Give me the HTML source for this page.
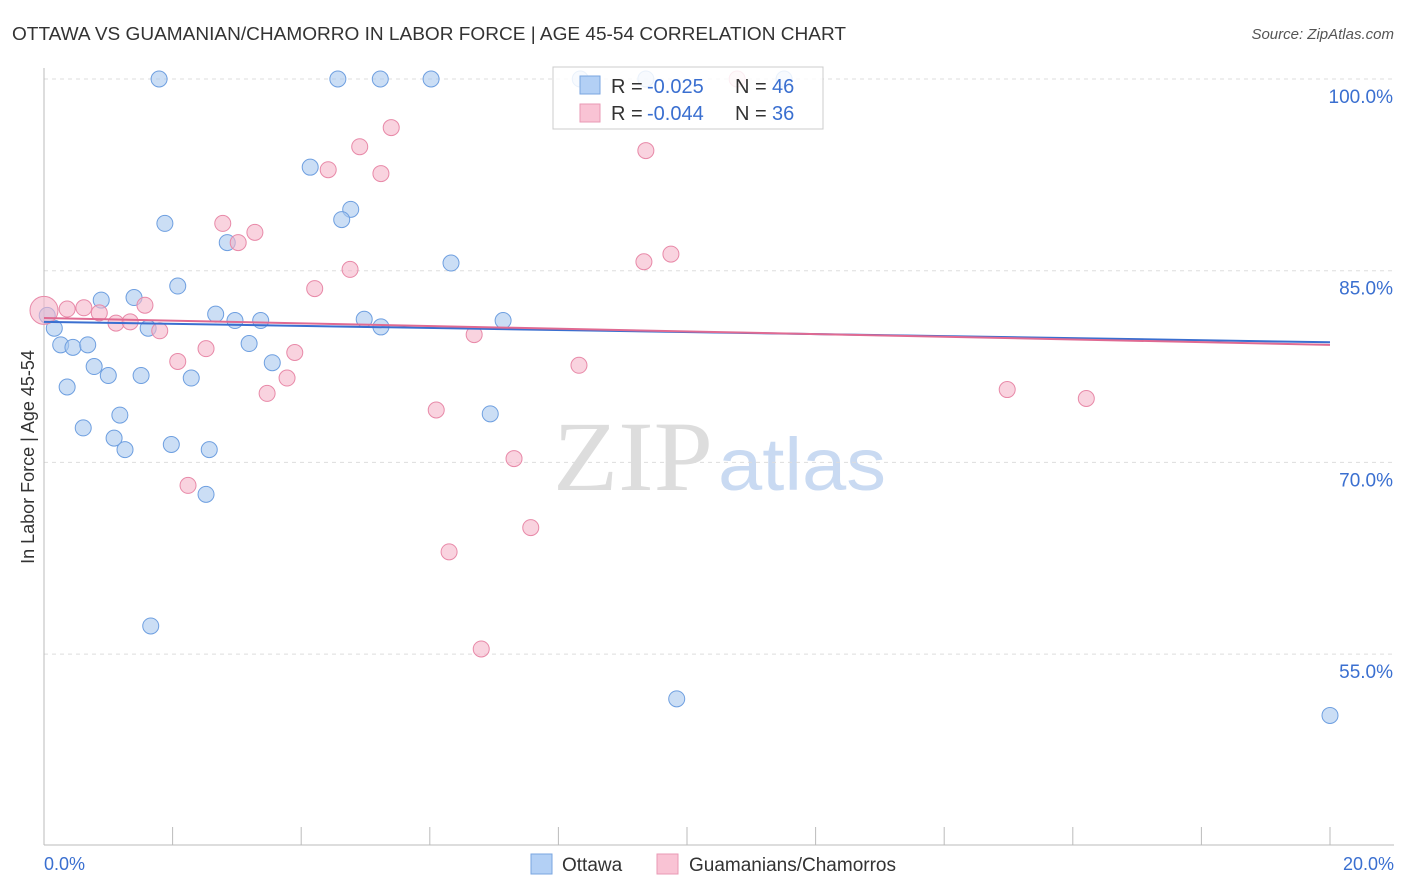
<!DOCTYPE html>
<html><head><meta charset="utf-8"><style>
body{margin:0;background:#fff;font-family:"Liberation Sans",sans-serif;}
svg{display:block}
</style></head><body>
<svg id="c" width="1406" height="892">
<text x="12" y="40" font-size="18" fill="#333" textLength="834" lengthAdjust="spacingAndGlyphs">OTTAWA VS GUAMANIAN/CHAMORRO IN LABOR FORCE | AGE 45-54 CORRELATION CHART</text>
<text x="1394" y="39" font-size="15" fill="#555" font-style="italic" text-anchor="end">Source: ZipAtlas.com</text>
<text x="34" y="457" font-size="18" fill="#333" text-anchor="middle" transform="rotate(-90 34 457)">In Labor Force | Age 45-54</text>
<text x="553" y="490" font-size="100" fill="#ddd" font-family="Liberation Serif,serif" textLength="160" lengthAdjust="spacingAndGlyphs">ZIP</text>
<text x="718" y="490" font-size="74" fill="#c9daf2" textLength="168" lengthAdjust="spacingAndGlyphs">atlas</text>
<g id="grid"></g><g id="pts"></g><g id="lines"></g>
<g>
<rect x="553" y="67" width="270" height="62" fill="#fff" fill-opacity="0.85" stroke="#ccc"/>
<rect x="580" y="76" width="20" height="18" fill="#b3d0f5" stroke="#7aa6e0"/>
<rect x="580" y="104" width="20" height="18" fill="#f9c3d4" stroke="#e99ab4"/>
<g font-size="20" fill="#333">
<text x="611" y="93">R =</text><text x="647" y="93" fill="#3a6fd0">-0.025</text><text x="735" y="93">N =</text><text x="772" y="93" fill="#3a6fd0">46</text>
<text x="611" y="120">R =</text><text x="647" y="120" fill="#3a6fd0">-0.044</text><text x="735" y="120">N =</text><text x="772" y="120" fill="#3a6fd0">36</text>
</g>
</g>
<g>
<rect x="531" y="854" width="21" height="20" fill="#b3d0f5" stroke="#7aa6e0"/>
<text x="562" y="871" font-size="19" fill="#333">Ottawa</text>
<rect x="657" y="854" width="21" height="20" fill="#f9c3d4" stroke="#e99ab4"/>
<text x="689" y="871" font-size="19" fill="#333">Guamanians/Chamorros</text>
</g>
<text x="44" y="870" font-size="18" fill="#3a6fd0">0.0%</text>
<text x="1394" y="870" font-size="18" fill="#3a6fd0" text-anchor="end">20.0%</text>
</svg>
<script>
const yTicks=[100,85,70,55];
const yTickLabels=["100.0%","85.0%","70.0%","55.0%"];
const xTicks=[0,2,4,6,8,10,12,14,16,18,20];
const blueX=[1.79,4.57,5.23,6.02,8.34,9.36,11.51,4.14,4.77,4.63,1.88,2.85,6.33,2.08,0.89,1.40,2.67,2.97,3.37,4.98,5.24,7.14,0.05,0.16,1.62,0.26,0.45,0.68,3.19,0.78,1.00,3.55,1.51,2.29,0.36,1.18,6.94,0.61,1.09,1.98,1.26,2.57,2.52,1.66,9.84,20.0];
const blueY=[100,100,100,100,100,100,100,93.1,89.8,89.0,88.7,87.2,85.6,83.8,82.7,82.9,81.6,81.1,81.1,81.2,80.6,81.1,81.5,80.5,80.5,79.2,79.0,79.2,79.3,77.5,76.8,77.8,76.8,76.6,75.9,73.7,73.8,72.7,71.9,71.4,71.0,71.0,67.5,57.2,51.5,50.2];
const pinkX=[10.78,5.40,4.91,9.36,4.42,5.24,2.78,3.28,3.02,9.75,9.33,4.76,4.21,1.57,0.62,0.36,0.86,1.12,1.34,1.80,6.69,0,2.52,3.90,2.08,8.32,3.78,3.47,14.98,16.21,6.10,7.31,2.24,7.57,6.30,6.80];
const pinkY=[100,96.2,94.7,94.4,92.9,92.6,88.7,88.0,87.2,86.3,85.7,85.1,83.6,82.3,82.1,82.0,81.7,80.9,81.0,80.3,80.0,81.9,78.9,78.6,77.9,77.6,76.6,75.4,75.7,75.0,74.1,70.3,68.2,64.9,63.0,55.4];
const blueTrend=[81.0,79.4];
const pinkTrend=[81.3,79.2];
const NS="http://www.w3.org/2000/svg";
const X=v=>44+v*64.3, Y=v=>79+(100-v)*12.78;
function mk(t,a,p){const e=document.createElementNS(NS,t);for(const k in a)e.setAttribute(k,a[k]);p.appendChild(e);return e;}
const g=document.getElementById('grid');
yTicks.forEach((t,i)=>{
 const l=mk('line',{x1:44,x2:1394,y1:Y(t),y2:Y(t),stroke:'#ddd','stroke-dasharray':'4,4'},g);
 
 
 const tx=mk('text',{x:1393,y:Y(t)+24,'font-size':19,fill:'#3a6fd0','text-anchor':'end'},g);
 tx.textContent=yTickLabels[i];
 
 
});
mk('line',{x1:44,x2:44,y1:68,y2:845,stroke:'#bbb'},g);
mk('line',{x1:44,x2:1394,y1:845,y2:845,stroke:'#bbb'},g);
xTicks.forEach(t=>{const l=mk('line',{x1:X(t),x2:X(t),y1:827,y2:845,stroke:'#bbb'},g);
 
 });
const p=document.getElementById('pts');
blueX.forEach((x,i)=>{const c=mk('circle',{cx:X(x),cy:Y(blueY[i]),r:8,fill:'#a9c8ef','fill-opacity':0.6,stroke:'#6e9fe0','stroke-width':1},p);
 
 });
pinkX.forEach((x,i)=>{const c=mk('circle',{cx:X(x),cy:Y(pinkY[i]),r:i==21?14:8,fill:'#f5b6c9','fill-opacity':0.6,stroke:'#e889a8','stroke-width':1},p);
 
 });
const ln=document.getElementById('lines');
const b=mk('line',{x1:X(0),x2:X(20),y1:Y(blueTrend[0]),y2:Y(blueTrend[1]),stroke:'#3a6fd0','stroke-width':2},ln);


const pk=mk('line',{x1:X(0),x2:X(20),y1:Y(pinkTrend[0]),y2:Y(pinkTrend[1]),stroke:'#e06a92','stroke-width':2},ln);


</script>
</body></html>
